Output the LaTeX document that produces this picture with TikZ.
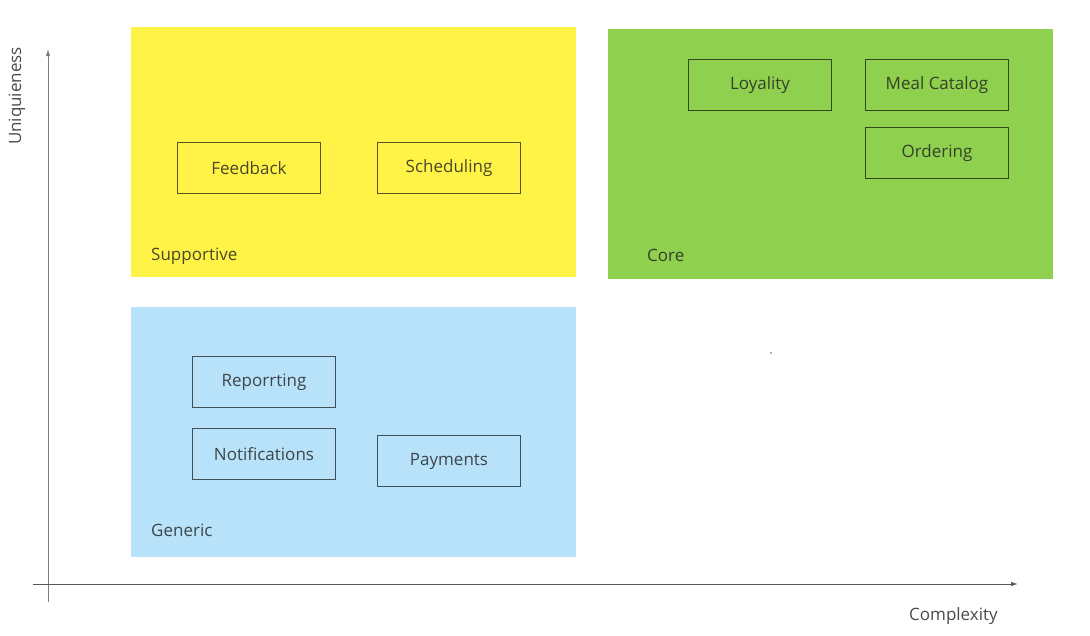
\documentclass[tikz,border=0pt]{standalone}
\usepackage{fontspec}
\setmainfont{Open Sans}
\usetikzlibrary{arrows.meta}
\definecolor{zyellow}{RGB}{255,243,71}
\definecolor{zgreen}{RGB}{143,209,79}
\definecolor{zblue}{RGB}{184,226,249}
\definecolor{ztext}{RGB}{30,30,30}
\begin{document}
\begin{tikzpicture}[x=1pt,y=-1pt,
  area/.style={draw=none,minimum width=445pt,minimum height=250pt,anchor=north west,inner sep=0pt},
  item/.style={draw=black,draw opacity=0.65,line width=1pt,minimum width=143pt,minimum height=51pt,inner sep=0pt,anchor=north west,text=ztext,text opacity=0.8,font=\fontsize{17}{20}\selectfont},
  lab/.style={anchor=west,inner sep=0pt,text=ztext,text opacity=0.8,font=\fontsize{17}{20}\selectfont},
  axis/.style={line width=1pt,-{Latex[length=7pt,width=4.5pt]}}]
\useasboundingbox (0,0) rectangle (1090,635);
\fill[white] (0,0) rectangle (1090,635);
% areas
\node[area,fill=zyellow] (sup) at (131,27) {};
\node[area,fill=zgreen] (core) at (608,29) {};
\node[area,fill=zblue] (gen) at (131,307) {};
% area labels
\node[lab] (suplab) at (151,256) {Supportive};
\node[lab] (corelab) at (647,255) {Core};
\node[lab] (genlab) at (151,530) {Generic};
% items
\node[item] (feedback) at (177,142) {Feedback};
\node[item] (scheduling) at (377,142) {Scheduling};
\node[item] (loyality) at (688,59) {Loyality};
\node[item] (meal) at (865,59) {Meal Catalog};
\node[item] (ordering) at (865,127) {Ordering};
\node[item] (reporting) at (192,356) {Reporrting};
\node[item] (notif) at (192,428) {Notifications};
\node[item] (payments) at (377,435) {Payments};
% axes
\coordinate (vbot) at (48,602);
\coordinate (vtop) at (48,49);
\coordinate (hleft) at (33,584);
\coordinate (hright) at (1018,584);
\draw[axis,draw=black!50] (vbot) -- (vtop);
\draw[axis,draw=black!65] (hleft) -- (hright);
\node[lab,rotate=90,anchor=center] (ylab) at (17,96) {Uniquieness};
\node[lab] (xlab) at (909,616) {Complexity};
\fill[black!60] (771,353) circle (0.9pt);
\end{tikzpicture}
\end{document}
